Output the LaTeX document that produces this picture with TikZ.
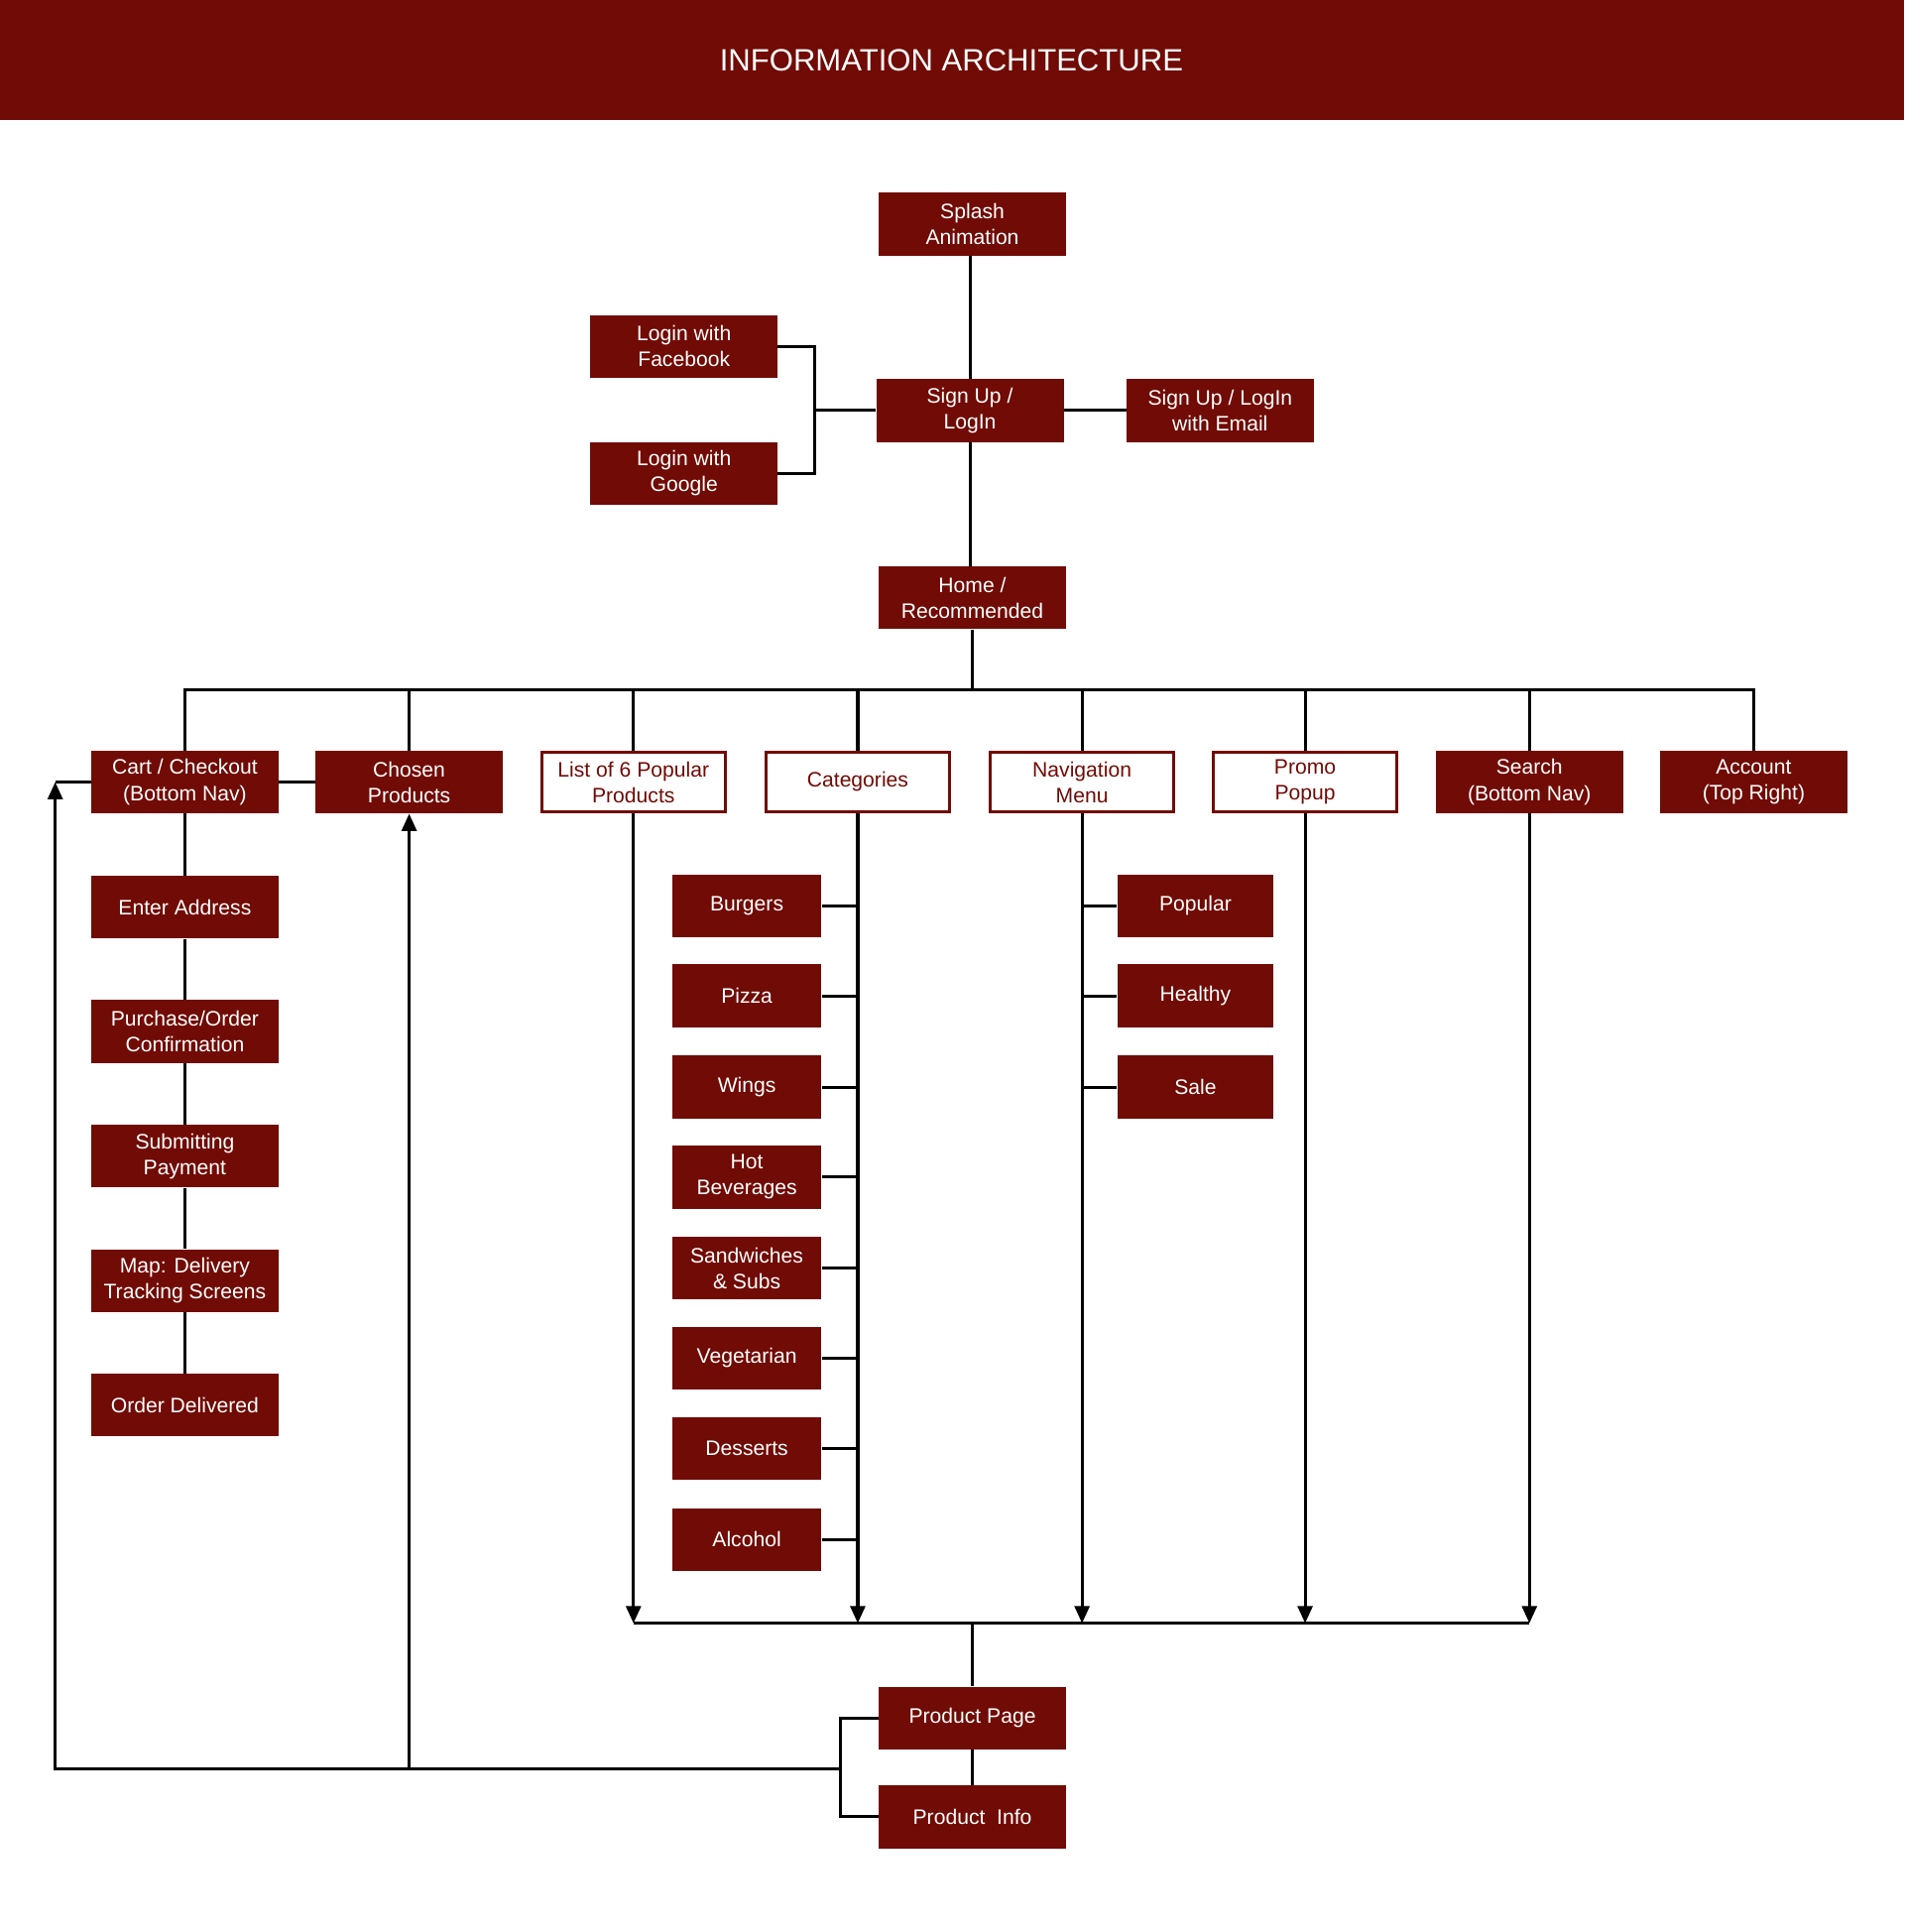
\documentclass[tikz,border=0pt]{standalone}
\usepackage{fontspec}
\setmainfont{Liberation Sans}
\usetikzlibrary{arrows.meta,calc}
\definecolor{iared}{HTML}{710B05}

\begin{document}
\begin{tikzpicture}[x=1pt,y=-1pt,
		box/.style={fill=iared,text=white,minimum width=152pt,minimum height=51pt,inner sep=0pt,align=center,font=\fontsize{17}{21}\selectfont},
		openbox/.style={box,fill=white,draw=iared,line width=2.5pt,text=iared,minimum width=149pt,minimum height=48pt},
		catbox/.style={box,minimum width=121pt},
		navbox/.style={box,minimum width=127pt},
		link/.style={line width=2.5pt,black},
		flow/.style={link,-{Triangle[width=12pt,length=14pt]}}]
		%%%%% START %%%%%
		
		\useasboundingbox (0,0) rectangle (1545,1567.5);
		\fill[iared] (0,0) rectangle (1545,97);
		\node[text=white,font=\fontsize{25}{30}\selectfont] (title) at (772,49) {INFORMATION ARCHITECTURE};
		
		% login part
		\node[box] (splash) at (789,182) {Splash\\Animation};
		\node[box] (signup) at (787,333) {Sign Up /\\LogIn};
		\node[box] (fb) at (555,281) {Login with\\Facebook};
		\node[box] (google) at (555,384) {Login with\\Google};
		\node[box] (email) at (990,333) {Sign Up / LogIn\\with Email};
		\node[box] (home) at (789,485) {Home /\\Recommended};
		
		% top row
		\node[box] (cart) at (150,634.5) {Cart / Checkout\\(Bottom Nav)};
		\node[box] (chosen) at (332,634.5) {Chosen\\Products};
		\node[openbox] (popular6) at (514,634.5) {List of 6 Popular\\Products};
		\node[openbox] (categories) at (696,634.5) {Categories};
		\node[openbox] (navmenu) at (878,634.5) {Navigation\\Menu};
		\node[openbox] (promo) at (1059,634.5) {Promo\\Popup};
		\node[box] (search) at (1241,634.5) {Search\\(Bottom Nav)};
		\node[box] (account) at (1423,634.5) {Account\\(Top Right)};
		
		% checkout steps
		\node[box] (address) at (150,736) {Enter Address};
		\node[box] (purchase) at (150,837) {Purchase/Order\\Confirmation};
		\node[box] (payment) at (150,938) {Submitting\\Payment};
		\node[box] (tracking) at (150,1039) {Map: Delivery\\Tracking Screens};
		\node[box] (delivered) at (150,1140) {Order Delivered};
		
		% categories
		\node[catbox] (burgers) at (606,735) {Burgers};
		\node[catbox] (pizza) at (606,808) {Pizza};
		\node[catbox] (wings) at (606,882) {Wings};
		\node[catbox] (hotbev) at (606,955) {Hot\\Beverages};
		\node[catbox] (sandwiches) at (606,1029) {Sandwiches\\\& Subs};
		\node[catbox] (vegetarian) at (606,1102) {Vegetarian};
		\node[catbox] (desserts) at (606,1175) {Desserts};
		\node[catbox] (alcohol) at (606,1249) {Alcohol};
		
		% navigation menu
		\node[navbox] (popular) at (970,735) {Popular};
		\node[navbox] (healthy) at (970,808) {Healthy};
		\node[navbox] (sale) at (970,882) {Sale};
		
		% product
		\node[box] (prodpage) at (789,1394) {Product Page};
		\node[box] (prodinfo) at (789,1474) {Product\ \ Info};
		
		\coordinate (lj) at (661,333);
		\coordinate (bus) at (789,560);
		\coordinate (pbus) at (789,1317);
		\coordinate (pj) at (682,1435);
		\coordinate (cl) at ($(cart.west)+(-29,0)$);
		
		\draw[link] (signup.north) -- (signup.north |- splash.south);
		\draw[link] (signup.south) -- (signup.south |- home.north);
		\draw[link] (signup) -- (email);
		\draw[link] (fb.east) -| (lj) |- (google.east);
		\draw[link] (signup.west) -- (lj);
		
		\draw[link] (home.south) -- (bus);
		\foreach \n in {cart,chosen,popular6,categories,navmenu,promo,search,account}
			\draw[link] (bus) -| (\n.north);
		
		\draw[link] (cart.east) -- (chosen.west);
		\draw[link] (cart) -- (address) -- (purchase) -- (payment) -- (tracking) -- (delivered);
		
		\foreach \n in {burgers,pizza,wings,hotbev,sandwiches,vegetarian,desserts,alcohol}
			\draw[link] (\n.east) -- (\n.east -| categories);
		\foreach \n in {popular,healthy,sale}
			\draw[link] (\n.west) -- (\n.west -| navmenu);
		
		\foreach \n in {popular6,categories,navmenu,promo,search}
			\draw[flow] (\n.south) -- (\n.south |- pbus);
		\draw[link] (popular6.south |- pbus) -- (search.south |- pbus);
		\draw[link] (pbus) -- (prodpage.north);
		\draw[link] (prodpage) -- (prodinfo);
		\draw[link] (prodpage.west) -| (pj) |- (prodinfo.west);
		
		\draw[flow] (pj) -| (chosen.south);
		\draw[flow] (pj) -| (cl);
		\draw[link] (cl) -- (cart.west);
		
		%%%%% END %%%%%
\end{tikzpicture}
\end{document}
